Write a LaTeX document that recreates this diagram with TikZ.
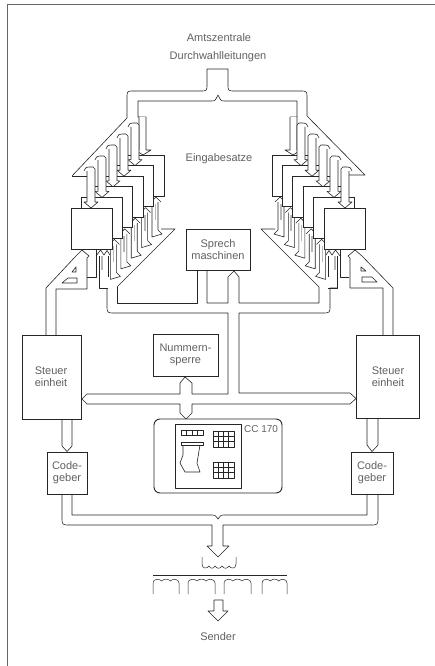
\documentclass[tikz,border=0pt]{standalone}
\usepackage{fontspec}
\setmainfont{Liberation Sans}
\definecolor{ink}{gray}{0.15}
\definecolor{txt}{gray}{0.38}
\tikzset{
  wire/.style={draw=ink,line width=0.6pt,line join=round},
  band/.style={wire,fill=white},
  heavy/.style={draw=ink,line width=0.95pt,fill=white,inner sep=0pt},
  lbl/.style={text=txt,font=\fontsize{11}{13}\selectfont,inner sep=0pt,align=center},
  coil/.style={draw=ink,line width=0.5pt},
}
% one bank of six input units, described for the left side
\newcommand{\inputbank}{%
  % feet and strips under the boxes
  \foreach \k in {0,...,4}{
    \pgfmathsetmacro{\bR}{164-10.4*\k}
    \pgfmathsetmacro{\bB}{196+10.6*\k}
    \fill[black!28] (\bR-9.5,\bB+8) rectangle (\bR-8,\bB+24);
    \draw[wire] (\bR-12,\bB+6) -- (\bR-12,\bB+41) -- (\bR-2,\bB+38) -- (\bR-6,\bB+34) -- (\bR-6,\bB+6);
    \draw[wire] (\bR-13,\bB+6) -- (\bR-8,\bB+1) -- (\bR-3,\bB+6);
  }
  % front box: strips and small arrows
  \fill[black!28] (100.5,256) rectangle (102.5,270);
  \draw[wire] (99,256) -- (99,288) -- (108,288);
  \draw[wire] (108,256) -- (108,277);
  \draw[wire] (96,256) -- (100.5,250) -- (104,255) -- (107,250.5) -- (110,255);
  \draw[wire] (87,277) -- (96,277) -- (96,249);
  % lower diagonal edge
  \draw[wire] (161,229) -- (175,229) -- (117,287);
  % arrows and boxes, back to front
  \foreach \k in {0,...,5}{
    \pgfmathsetmacro{\bL}{123-10.4*\k}
    \pgfmathsetmacro{\bT}{155+10.6*\k}
    \ifnum\k=0
      \path[band] (139,117) -- (139,150) -- (135,150) -- (143,155) -- (151,150) -- (146,150) -- (146,117);
    \else
      \pgfmathsetmacro{\xr}{139-11*(\k-1)}
      \pgfmathsetmacro{\yt}{123+11*(\k-1)}
      \path[band] (\xr-8,\yt+4) -- (\xr-8,\bT-6) -- (\xr-11,\bT-6) -- (\xr-4,\bT) -- (\xr+3,\bT-6) -- (\xr,\bT-6) -- (\xr,\yt+2) -- (\xr-2,\yt) -- (\xr-6,\yt) .. controls (\xr-9,\yt) .. (\xr-11,\yt+4);
    \fi
    \draw[heavy,line width=0.85pt] (\bL,\bT) rectangle (\bL+41,\bT+41);
  }
}
\begin{document}
\begin{tikzpicture}[x=1pt,y=-1pt]
\useasboundingbox (0,0) rectangle (435,666);
\fill[white] (0,0) rectangle (435,666);
% page frame
\draw[black!60,line width=0.9pt] (435,4.5) -- (7,4.5) -- (7,666);

% labels
\node[lbl] (amt) at (219,38) {Amtszentrale};
\node[lbl] (dw) at (218,57) {Durchwahlleitungen};
\node[lbl] (eing) at (219,159) {Eingabesatze};

% trunk from the exchange
\draw[wire] (72,176) -- (88,176);
\draw[wire] (72,176) -- (127,118) -- (127,98) .. controls (127,91) .. (134,91) -- (200,91)
  .. controls (207,91) .. (207,84) -- (207,69) -- (228,69) -- (228,84) .. controls (228,91) .. (235,91)
  -- (300,91) .. controls (307,91) .. (307,98) -- (307,116) -- (365,175) -- (348,175);
\draw[wire] (146,117) -- (138,117) -- (138,101) -- (211,101) .. controls (215,101) .. (218,95) .. controls (221,101) .. (225,101)
  -- (297,101) -- (297,117) -- (290,117);

% two banks
\inputbank
\begin{scope}[shift={(436,0)},xscale=-1]
  \inputbank
\end{scope}

% Steuer boxes and their links
\node[heavy,minimum width=59pt,minimum height=84pt] (stL) at (51.5,377) {};
\node[heavy,minimum width=63pt,minimum height=83pt] (stR) at (387.5,376.5) {};
\node[lbl] at (51,377) {Steuer\\[-1pt]einheit};
\node[lbl] at (388,377) {Steuer\\[-1pt]einheit};

% left link
\draw[wire] (46,335) -- (46,288) -- (75,257) -- (82,250) -- (89,256) -- (87,258) -- (87,289) -- (56,289) -- (56,335);
\draw[wire] (72,272) -- (76,267) -- (76,272) -- cycle;
\draw[wire] (62,283) -- (68,278) -- (77,278) -- (77,283) -- cycle;
% right link
\draw[wire] (393,335) -- (393,288) -- (362,256) -- (355,250) -- (348,256) -- (350,258) -- (350,288) -- (383,288) -- (383,335);
\draw[wire] (361,267) -- (366,271) -- (361,271) -- cycle;
\draw[wire] (362,277) -- (372,277) -- (377,282) -- (362,282) -- cycle;

% Sprechmaschinen
\node[heavy,minimum width=64pt,minimum height=41pt,lbl,text=txt] (sp) at (218,249.5) {Sprech\\[-1pt]maschinen};
\draw[wire] (117,287) -- (117,303) -- (197,303) -- (197,270);
\draw[wire] (207,270) -- (207,303) -- (228,303) -- (228,277) -- (234,271) -- (239,277) -- (239,303) -- (319,303) -- (319,287);
% main band
\draw[wire] (107,288) -- (107,305) .. controls (107,313) .. (115,313) -- (228,313) -- (228,394) -- (192,394) -- (192,383) -- (185,377) -- (180,383) -- (180,394) -- (87,394) -- (82,399) -- (87,404) -- (180,404) -- (180,413) -- (186,419) -- (192,413) -- (192,404) -- (350,404) -- (356,398.5) -- (350,393) -- (239,393) -- (239,313) -- (322,313) .. controls (330,313) .. (330,305) -- (330,288) -- (337,288);

% Nummernsperre
\node[heavy,minimum width=65pt,minimum height=42pt,lbl,text=txt] (nu) at (185.5,355) {Nummern-\\[-1pt]sperre};

% CC 170
\node[heavy,minimum width=128pt,minimum height=74pt,rounded corners=6pt] (cc) at (218,456) {};
\draw[wire,fill=white] (175,424) rectangle (241,488);
\node[lbl,font=\fontsize{10}{12}\selectfont] at (261,429) {CC 170};
\draw[wire] (181,430) rectangle (203,435.5);
\foreach \x in {186.5,192,197.5} \draw[wire] (\x,430) -- (\x,435.5);
\foreach \y in {431,462}{
  \draw[wire] (213,\y) rectangle (234,\y+16);
  \foreach \x in {218.25,223.5,228.75} \draw[wire] (\x,\y) -- (\x,\y+16);
  \foreach \d in {5.33,10.67} \draw[wire] (213,\y+\d) -- (234,\y+\d);
}
\draw[wire] (181,442) rectangle (203,445);
\draw[wire] (183,445) -- (183,455) -- (180,463) -- (185,472) -- (200,472) -- (197,463) -- (200,445);

% Code units
\node[heavy,minimum width=40pt,minimum height=42pt,lbl,text=txt] (cdL) at (67,473) {Code-\\[-1pt]geber};
\node[heavy,minimum width=42pt,minimum height=42pt,lbl,text=txt] (cdR) at (372,473) {Code-\\[-1pt]geber};
\draw[wire] (62,419.5) -- (62,446) -- (67,451.5) -- (72,446) -- (72,419.5);
\draw[wire] (367,418.5) -- (367,445) -- (372,451.5) -- (378,445) -- (378,418.5);

% collecting band
\draw[wire] (72,494) -- (72,515) -- (211,515) .. controls (215,515) .. (218,519) .. controls (221,515) .. (225,515) -- (367,515) -- (367,494);
\draw[wire] (62,494) -- (62,517) .. controls (62,525) .. (70,525) -- (212,525) -- (212,546) -- (207,546) -- (218,557) -- (229,546) -- (223,546) -- (223,525) -- (370,525) .. controls (378,525) .. (378,517) -- (378,494);

% transformer
\draw[coil] (202,557) -- (202,564) .. controls (202,569) and (207,569) .. (209,566)
  .. controls (211,569) and (213,569) .. (215,566)
  .. controls (217,569) and (220,569) .. (222,566)
  .. controls (224,569) and (227,569) .. (229,566)
  .. controls (231,569) and (236,569) .. (236,564) -- (236,557);
\draw[draw=ink,line width=0.9pt] (153,575) -- (287,575);
\foreach \a/\b in {153/179,188/215,224/251,262/287}{
  \pgfmathsetmacro{\wa}{(\b-\a)/3}
  \draw[coil] (\a,594) -- (\a,583) .. controls (\a,578.5) and (\a+\wa-2,578.5) .. (\a+\wa,581)
    .. controls (\a+\wa+2,578.5) and (\a+2*\wa-2,578.5) .. (\a+2*\wa,581)
    .. controls (\a+2*\wa+2,578.5) and (\b,578.5) .. (\b,583) -- (\b,594);
}
% output arrow
\draw[wire] (214,600) -- (223,600) (214,600) -- (214,611) -- (208,611) -- (218,621) -- (228,611) -- (223,611) -- (223,600);
\node[lbl] (sender) at (218,637) {Sender};
\end{tikzpicture}
\end{document}
